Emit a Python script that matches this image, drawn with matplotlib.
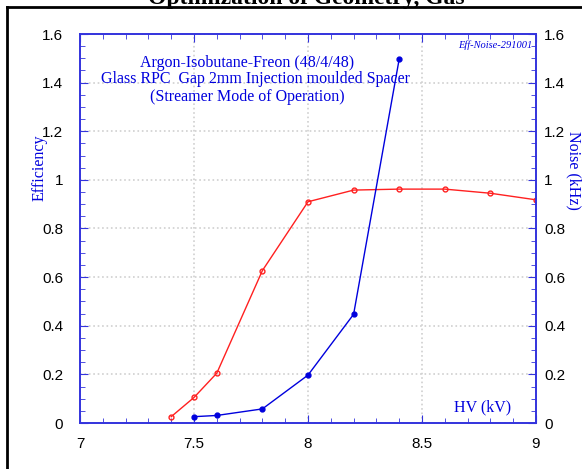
import matplotlib.pyplot as plt
import matplotlib.ticker as ticker
from matplotlib.lines import Line2D

# efficiency (red, open circles)
hv_eff = [7.4, 7.5, 7.6, 7.8, 8.0, 8.2, 8.4, 8.6, 8.8, 9.0]
eff = [0.026, 0.105, 0.205, 0.627, 0.91, 0.958, 0.962, 0.962, 0.945, 0.918]

# noise (blue, filled dots)
hv_noise = [7.5, 7.6, 7.8, 8.0, 8.2, 8.4]
noise = [0.026, 0.031, 0.058, 0.197, 0.447, 1.497]

serif = 'Liberation Serif'
sans = 'Liberation Sans'
blue = '#0000dd'
axblue = '#3333dd'

fig = plt.figure(figsize=(5.82, 4.69), dpi=100)
ax = fig.add_axes([80/582, 1 - 423/469, 456/582, 389/469])
ax2 = ax.twinx()

ax.plot(hv_eff, eff, color='#ff2020', lw=1, marker='o', ms=3.5,
        mfc='none', mec='#ff2020', mew=1)
ax2.plot(hv_noise, noise, color=blue, lw=1, marker='o', ms=3.5,
         mfc=blue, mec=blue)

for a in (ax, ax2):
    a.set_xlim(7, 9)
    a.set_ylim(0, 1.6)
    a.yaxis.set_major_locator(ticker.MultipleLocator(0.2))
    a.yaxis.set_minor_locator(ticker.MultipleLocator(0.05))
    a.yaxis.set_major_formatter(ticker.FormatStrFormatter('%g'))
    for s in a.spines.values():
        s.set_color(axblue)
        s.set_linewidth(1.2)

ax.xaxis.set_major_locator(ticker.MultipleLocator(0.5))
ax.xaxis.set_minor_locator(ticker.MultipleLocator(0.1))
ax.xaxis.set_major_formatter(ticker.FormatStrFormatter('%g'))

ax.tick_params(which='both', direction='in', color=axblue, top=True,
               right=False, labelsize=11, labelcolor='black')
ax.tick_params(which='major', length=6, pad=10)
ax.tick_params(which='minor', length=3.5)
ax.tick_params(axis='y', pad=12)
ax2.tick_params(which='both', direction='in', color=axblue,
                labelsize=11, labelcolor='black', pad=6)
ax2.tick_params(which='major', length=6)
ax2.tick_params(which='minor', length=3.5)
for lab in ax.get_xticklabels() + ax.get_yticklabels() + ax2.get_yticklabels():
    lab.set_fontfamily(sans)

ax.grid(True, which='major', color='#d0d0d0', linestyle=':', linewidth=1.2)
ax.set_axisbelow(True)

ax.set_ylabel('Efficiency', family=serif, color=blue, fontsize=11.5,
              va='center', ha='center')
ax.yaxis.set_label_coords(-0.088, 0.655)
ax2.set_ylabel('Noise (kHz)', family=serif, color=blue, fontsize=11.5,
               rotation=-90, va='center', ha='center')
ax2.yaxis.set_label_coords(1.082, 0.648)

ax.text(0.366, 0.925, 'Argon-Isobutane-Freon (48/4/48)', transform=ax.transAxes,
        ha='center', va='center', family=serif, color=blue, fontsize=11.5)
ax.text(0.384, 0.884, 'Glass RPC  Gap 2mm Injection moulded Spacer',
        transform=ax.transAxes, ha='center', va='center', family=serif,
        color=blue, fontsize=11.5)
ax.text(0.366, 0.838, '(Streamer Mode of Operation)', transform=ax.transAxes,
        ha='center', va='center', family=serif, color=blue, fontsize=11.5)
ax.text(0.993, 0.971, 'Eff-Noise-291001', transform=ax.transAxes,
        ha='right', va='center', family=serif, style='italic', color=blue,
        fontsize=7.5)
ax.text(0.945, 0.04, 'HV (kV)', transform=ax.transAxes, ha='right',
        va='center', family=serif, color=blue, fontsize=11.5)

# clipped title and frame from the original page
fig.text(148/582, 1 - 4/469, 'Optimization of Geometry, Gas', ha='left',
         va='baseline', family=serif, fontweight='bold', fontsize=17)
fig.add_artist(Line2D([7/582, 7/582], [0, 1 - 7/469], color='black', lw=2,
                      transform=fig.transFigure))
fig.add_artist(Line2D([7/582, 1], [1 - 7/469, 1 - 7/469], color='black', lw=2,
                      transform=fig.transFigure))

fig.savefig('out.png', dpi=100)
